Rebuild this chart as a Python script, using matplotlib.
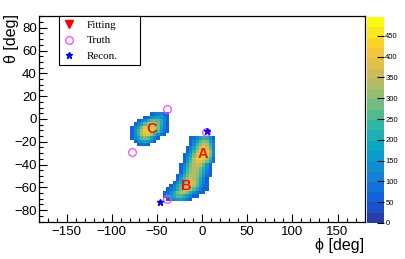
import numpy as np
import matplotlib
matplotlib.use('Agg')
import matplotlib.pyplot as plt
from matplotlib.colors import LinearSegmentedColormap, ListedColormap, BoundaryNorm


# 2D histogram: phi bins of 3.6 deg, theta bins of 3 deg
phi_edges = np.arange(-82.8, 21.6 + 0.01, 3.6)
theta_edges = np.arange(-75.0, 9.0 + 0.01, 3.0)

# one string per theta row (top row first), one char per phi bin
# '.' = empty bin, '1'..'k' = colour level 1..20 (level * 24.75 counts)
cell_rows = [
    ".............................",
    ".......345543................",
    ".....34678753................",
    "...3469bcb963................",
    "..358befec953................",
    ".358cghhfc853................",
    ".36aehjifb743................",
    ".36aeggea643.................",
    ".358bcb853.........3468a963..",
    "..3578753..........358bdc84..",
    "...3443............36adfea5..",
    "..................358cfhfb5..",
    "..................36aehjhd6..",
    ".................358cgjkhc5..",
    ".................36aehihea4..",
    ".................37beggfc84..",
    "................359cefeb73...",
    "................36adeec963...",
    "................37bdedb853...",
    "...............359ceeda743...",
    "...............37bdfec953....",
    "..............359cfgfc853....",
    ".............358beggeb743....",
    "............3469cfgeb8533....",
    "...........3469ceec96433.....",
    "...........3579bb97533.......",
    "............34677643.........",
    ".............................",
]
z_max = 495.0

truth_phi = [-39, -77, 4, -39]
truth_theta = [8.4, -28.7, -11.7, -70.5]
recon_phi = [6, -46]
recon_theta = [-10.8, -72.5]
fit_phi = []
fit_theta = []

label_names = ['A', 'B', 'C']
label_phi = [0.5, -17.5, -56.0]
label_theta = [-30.7, -59.0, -8.8]


def build_counts():
    l_levels = '.123456789abcdefghijk'
    l_grid = np.array([[l_levels.index(c) for c in row] for row in cell_rows], dtype=float)
    l_grid = l_grid[::-1]   # bottom row first
    l_counts = l_grid * z_max / 20.0 - 12.0
    return np.ma.masked_where(l_grid == 0, l_counts)


def bird_palette(n_contours=20):
    # ROOT kBird
    stops = [0.0, 0.125, 0.25, 0.375, 0.5, 0.625, 0.75, 0.875, 1.0]
    red = [0.2082, 0.0592, 0.0780, 0.0232, 0.1802, 0.5301, 0.8186, 0.9956, 0.9764]
    green = [0.1664, 0.3599, 0.5041, 0.6419, 0.7178, 0.7492, 0.7328, 0.7862, 0.9832]
    blue = [0.5293, 0.8684, 0.8385, 0.7914, 0.6425, 0.4662, 0.3499, 0.1968, 0.0539]
    l_smooth = LinearSegmentedColormap.from_list(
        'bird', [(s, (r, g, b)) for s, r, g, b in zip(stops, red, green, blue)], N=255)
    l_cols = [l_smooth(int((i + 0.99) * 255 / n_contours) / 254.0) for i in range(n_contours)]
    return ListedColormap(l_cols)


def main():
    plt.rcParams['font.family'] = ['Liberation Sans', 'DejaVu Sans']

    fig = plt.figure(figsize=(4.05, 2.59), dpi=100)
    ax = fig.add_axes([0.0973, 0.1444, 0.8030, 0.7923])
    cax = fig.add_axes([0.9054, 0.139, 0.0427, 0.795])

    l_cmap = bird_palette(20)
    l_norm = BoundaryNorm(np.linspace(0, z_max, 21), l_cmap.N)
    l_mesh = ax.pcolormesh(phi_edges, theta_edges, build_counts(), cmap=l_cmap, norm=l_norm)

    l_fit, = ax.plot(fit_phi, fit_theta, 'v', color='red', markersize=5.5, label='Fitting')
    l_truth, = ax.plot(truth_phi, truth_theta, 'o', mfc='none', mec='#ff44ff', mew=0.9,
                       markersize=5.5, label='Truth')
    l_recon, = ax.plot(recon_phi, recon_theta, '*', color='blue', markersize=5, label='Recon.')

    for name, x, y in zip(label_names, label_phi, label_theta):
        ax.text(x, y, name, color='#ee1111', fontsize=10.5, fontweight='bold',
                ha='center', va='center')

    ax.set_xlim(-180, 180)
    ax.set_ylim(-90, 90)
    ax.set_xticks(np.arange(-150, 151, 50))
    ax.set_xticks(np.arange(-180, 181, 10), minor=True)
    ax.set_yticks(np.arange(-80, 81, 20))
    ax.set_yticks(np.arange(-90, 91, 5), minor=True)
    ax.tick_params(which='both', direction='in', top=False, right=False, labelsize=9.5, width=0.8)
    ax.tick_params(which='major', length=6)
    ax.tick_params(which='minor', length=3)
    ax.tick_params(axis='x', pad=3)
    ax.tick_params(axis='y', pad=2)
    for s in ax.spines.values():
        s.set_linewidth(0.9)

    fig.text(0.900, 0.051, '\u03d5 [deg]', ha='right', va='center', fontsize=11.5,
             family=['Liberation Sans', 'DejaVu Sans'])
    fig.text(0.028, 0.85, '\u03b8 [deg]', ha='center', va='center', rotation=90, fontsize=11.5,
             family=['Liberation Sans', 'DejaVu Sans'])

    l_leg = ax.legend(handles=[l_fit, l_truth, l_recon], loc='upper left',
                      bbox_to_anchor=(0.060, 0.0, 0.249, 1.0), mode='expand',
                      prop={'family': 'Liberation Serif', 'size': 8},
                      fancybox=False, framealpha=1, edgecolor='black',
                      borderaxespad=0, borderpad=0.3, labelspacing=0.55,
                      handlelength=1.2, handletextpad=1.0)
    l_leg.get_frame().set_linewidth(0.8)

    cb = fig.colorbar(l_mesh, cax=cax, ticks=np.arange(0, 451, 50))
    cb.outline.set_visible(False)
    cax.tick_params(direction='in', length=5, width=0.8, labelsize=5.5, pad=1)
    cax.minorticks_off()

    fig.savefig('out.png', dpi=100)


main()
